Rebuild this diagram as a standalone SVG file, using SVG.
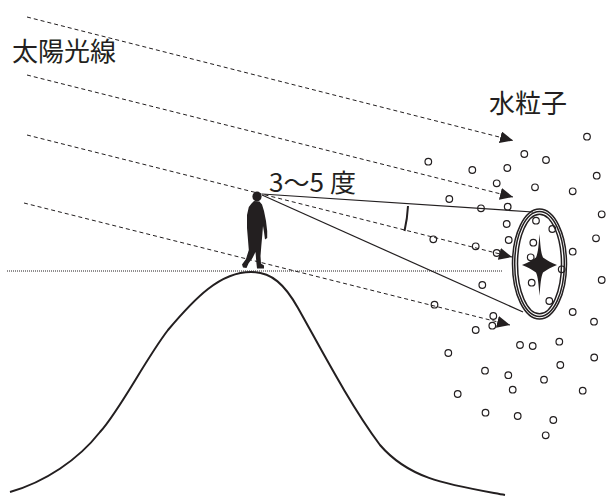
<svg xmlns="http://www.w3.org/2000/svg" width="606" height="498" viewBox="0 0 606 498">
  <style>
    .ray { fill: none; stroke: #231f20; stroke-width: 1; stroke-dasharray: 4 3; }
    .sight { fill: none; stroke: #231f20; stroke-width: 1.2; }
    .ring { fill: none; stroke: #231f20; stroke-width: 1.5; }
    .drop { fill: none; stroke: #231f20; stroke-width: 1.2; }
    .label { font-family: "Noto Sans CJK JP", "Noto Sans", sans-serif; fill: #231f20; }
  </style>
  <defs>
    <marker id="arrow" markerWidth="14" markerHeight="12" refX="13" refY="6" orient="auto" markerUnits="userSpaceOnUse">
      <path d="M0,0 L13,6 L0,12 Z" fill="#231f20"/>
    </marker>
  </defs>

  <rect width="606" height="498" fill="#ffffff"/>

  <!-- horizon -->
  <line id="horizon" x1="7" y1="271" x2="503" y2="271" stroke="#231f20" stroke-width="1" stroke-dasharray="1 1"/>

  <!-- mountain -->
  <path id="mountain" d="M10,492 C45,482 78,460 100,432 C120,410 145,360 168,330 C195,298 220,272 251,272 C272,272 285,285 298,308 C320,347 350,405 380,445 C410,480 450,485 505,495" fill="none" stroke="#231f20" stroke-width="2"/>

  <!-- water particles -->
  <g id="particles">
    <circle class="drop" cx="428.3" cy="161.7" r="3.3"/>
    <circle class="drop" cx="472.3" cy="170" r="3.3"/>
    <circle class="drop" cx="507.3" cy="168" r="3.3"/>
    <circle class="drop" cx="524.3" cy="154" r="3.3"/>
    <circle class="drop" cx="546" cy="160" r="3.3"/>
    <circle class="drop" cx="587" cy="136.7" r="3.3"/>
    <circle class="drop" cx="596.7" cy="175.7" r="3.3"/>
    <circle class="drop" cx="496.7" cy="183.3" r="3.3"/>
    <circle class="drop" cx="535" cy="187.3" r="3.3"/>
    <circle class="drop" cx="572.7" cy="191.3" r="3.3"/>
    <circle class="drop" cx="449.3" cy="199" r="3.3"/>
    <circle class="drop" cx="481" cy="208.3" r="3.3"/>
    <circle class="drop" cx="507.7" cy="206.7" r="3.3"/>
    <circle class="drop" cx="601.7" cy="214.3" r="3.3"/>
    <circle class="drop" cx="506.7" cy="224" r="3.3"/>
    <circle class="drop" cx="536" cy="220.7" r="3.3"/>
    <circle class="drop" cx="552.3" cy="229" r="3.3"/>
    <circle class="drop" cx="508.7" cy="240" r="3.3"/>
    <circle class="drop" cx="533.3" cy="242.7" r="3.3"/>
    <circle class="drop" cx="433.3" cy="239.3" r="3.3"/>
    <circle class="drop" cx="475.7" cy="246.3" r="3.3"/>
    <circle class="drop" cx="496.7" cy="253" r="3.3"/>
    <circle class="drop" cx="530.7" cy="257.3" r="3.3"/>
    <circle class="drop" cx="572.7" cy="251.7" r="3.3"/>
    <circle class="drop" cx="596" cy="238.3" r="3.3"/>
    <circle class="drop" cx="561.7" cy="269.3" r="3.3"/>
    <circle class="drop" cx="601.7" cy="280" r="3.3"/>
    <circle class="drop" cx="531.7" cy="282.7" r="3.3"/>
    <circle class="drop" cx="482.3" cy="285" r="3.3"/>
    <circle class="drop" cx="549.3" cy="301" r="3.3"/>
    <circle class="drop" cx="434.5" cy="304.7" r="3.3"/>
    <circle class="drop" cx="572.7" cy="312" r="3.3"/>
    <circle class="drop" cx="493.3" cy="316" r="3.3"/>
    <circle class="drop" cx="594" cy="321.7" r="3.3"/>
    <circle class="drop" cx="492.3" cy="325.7" r="3.3"/>
    <circle class="drop" cx="475.7" cy="330" r="3.3"/>
    <circle class="drop" cx="520" cy="345" r="3.3"/>
    <circle class="drop" cx="532.7" cy="346" r="3.3"/>
    <circle class="drop" cx="559.3" cy="341.7" r="3.3"/>
    <circle class="drop" cx="448.3" cy="353" r="3.3"/>
    <circle class="drop" cx="594.2" cy="357.5" r="3.3"/>
    <circle class="drop" cx="560.3" cy="365" r="3.3"/>
    <circle class="drop" cx="485" cy="370.7" r="3.3"/>
    <circle class="drop" cx="508.3" cy="375.2" r="3.3"/>
    <circle class="drop" cx="544" cy="379.7" r="3.3"/>
    <circle class="drop" cx="512.7" cy="389.7" r="3.3"/>
    <circle class="drop" cx="457.7" cy="394" r="3.3"/>
    <circle class="drop" cx="582.7" cy="390.7" r="3.3"/>
    <circle class="drop" cx="485.5" cy="412.7" r="3.3"/>
    <circle class="drop" cx="517.7" cy="416" r="3.3"/>
    <circle class="drop" cx="553.3" cy="420" r="3.3"/>
    <circle class="drop" cx="545.7" cy="435.3" r="3.3"/>
  </g>

  <!-- rainbow seen as a ring, with the sun-glint star inside -->
  <g id="rainbow">
    <ellipse class="ring" cx="539.5" cy="264" rx="27" ry="55"/>
    <ellipse class="ring" cx="539.5" cy="264" rx="24.8" ry="52.6"/>
    <ellipse class="ring" cx="539.5" cy="264" rx="22" ry="49.8"/>
    <path d="M539.5,234 C540.5,247 541,253 543,257.5 C547,260.5 551,262.5 557,265 C551,267.5 547,269.5 543,272.5 C541,277 540.5,283 539.5,296 C538.5,283 538,277 536,272.5 C532,269.5 528,267.5 522,265 C528,262.5 532,260.5 536,257.5 C538,253 538.5,247 539.5,234 Z" fill="#231f20"/>
  </g>

  <!-- sun rays -->
  <g id="connectors">
    <line class="ray" x1="27" y1="17" x2="513" y2="140.5" marker-end="url(#arrow)"/>
    <line class="ray" x1="27" y1="75" x2="513" y2="197" marker-end="url(#arrow)"/>
    <line class="ray" x1="27" y1="135" x2="512" y2="257" marker-end="url(#arrow)"/>
    <line class="ray" x1="24" y1="203" x2="510" y2="325" marker-end="url(#arrow)"/>
    <!-- lines of sight to the rim of the ring -->
    <line class="sight" x1="262" y1="194" x2="533" y2="212"/>
    <line class="sight" x1="262" y1="195" x2="523" y2="312"/>
    <!-- angle mark -->
    <path d="M408,206 A146,146 0 0 1 404.5,231" fill="none" stroke="#231f20" stroke-width="2"/>
  </g>

  <!-- observer -->
  <g id="person" fill="#231f20">
    <ellipse cx="257" cy="196.5" rx="4.6" ry="5"/>
    <path d="M254,201 L259.5,201.5 L262,204.5 L264,211 L266,221 L267.2,231 L267.2,238 L265,239.5 L264,232 L263,226 L262.3,235 L261.3,246 L260.5,256 L261,263.5 L264,265.5 L264,268.5 L257,268.5 L256.3,262 L255.5,252 L252.5,258 L248.5,263.5 L246.5,268 L243,267.5 L242,264.5 L246,259 L248.8,250 L248,240 L247,228 L247,215 L248.8,207 L251.5,203.5 Z"/>
  </g>

  <!-- labels -->
  <g id="labels">
    <text class="label" x="12" y="61" font-size="26">太陽光線</text>
    <text class="label" x="489" y="113" font-size="26">水粒子</text>
    <text class="label" x="269" y="192" font-size="25" textLength="87" lengthAdjust="spacingAndGlyphs">3～5 度</text>
  </g>
</svg>
